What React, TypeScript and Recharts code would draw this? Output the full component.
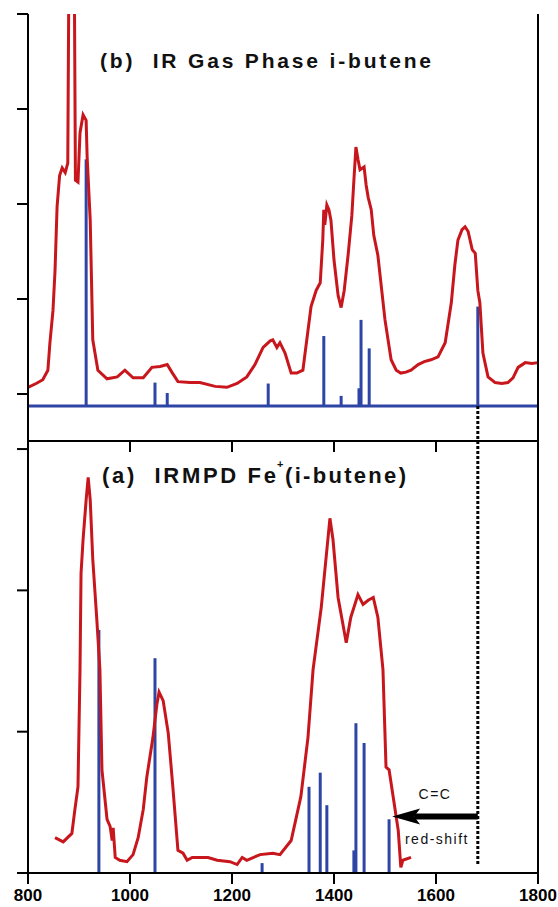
import React from 'react';
import { ComposedChart, Line, XAxis, YAxis, ReferenceLine } from 'recharts';

const RED = '#c8161d';
const BLUE = '#2e45a5';
const FONT = '"Liberation Sans", Arial, Helvetica, sans-serif';

const X_TICKS = [800, 1000, 1200, 1400, 1600, 1800];

// (b) gas phase spectrum
const TOP_WAVE = [800, 816, 829, 839, 843, 849, 853, 857, 862, 867, 873, 878, 881, 890, 893, 898, 902, 908, 914, 916, 922, 927, 937, 955, 975, 990, 1006, 1026, 1043, 1059, 1073, 1082, 1094, 1118, 1137, 1167, 1190, 1210, 1229, 1245, 1261, 1275, 1280, 1288, 1294, 1304, 1316, 1327, 1339, 1355, 1365, 1373, 1378, 1380, 1382, 1386, 1390, 1394, 1400, 1408, 1414, 1420, 1428, 1435, 1439, 1443, 1447, 1451, 1459, 1463, 1467, 1473, 1478, 1486, 1500, 1512, 1522, 1531, 1541, 1551, 1565, 1577, 1590, 1604, 1618, 1630, 1637, 1643, 1651, 1657, 1663, 1671, 1677, 1682, 1686, 1692, 1702, 1716, 1729, 1741, 1751, 1761, 1775, 1788, 1800];
const TOP_ABS = [0.07, 0.11, 0.15, 0.25, 0.54, 0.88, 1.3, 1.97, 2.3, 2.38, 2.33, 2.43, 5.2, 5.2, 2.25, 2.23, 2.75, 2.94, 2.88, 2.49, 1.83, 0.57, 0.25, 0.16, 0.18, 0.25, 0.17, 0.17, 0.28, 0.29, 0.31, 0.23, 0.13, 0.12, 0.12, 0.08, 0.07, 0.11, 0.18, 0.31, 0.49, 0.56, 0.57, 0.49, 0.54, 0.43, 0.22, 0.22, 0.25, 0.92, 1.09, 1.17, 1.62, 1.94, 1.78, 1.99, 1.94, 1.83, 1.41, 1.04, 0.91, 1.09, 1.48, 1.88, 2.25, 2.6, 2.47, 2.36, 2.39, 2.2, 2.07, 1.94, 1.67, 1.46, 0.78, 0.36, 0.25, 0.22, 0.23, 0.25, 0.31, 0.34, 0.36, 0.39, 0.54, 0.96, 1.36, 1.62, 1.73, 1.76, 1.71, 1.52, 1.48, 1.09, 0.96, 0.43, 0.18, 0.12, 0.11, 0.12, 0.17, 0.28, 0.33, 0.32, 0.33];
const TOP_STICK_WAVE = [914, 1049, 1073, 1271, 1380, 1414, 1449, 1453, 1469, 1682];
const TOP_STICK_HEIGHT = [2.47, 0.12, 0.01, 0.11, 0.61, -0.02, 0.06, 0.78, 0.48, 0.92];
const TOP_BASE = -0.126;
const TOP_MIN = -0.495;
const TOP_MAX = 4.0;

// (a) IRMPD spectrum
const BOT_WAVE = [853, 869, 886, 892, 898, 902, 904, 908, 914, 918, 922, 927, 935, 941, 945, 955, 961, 965, 967, 971, 980, 994, 1006, 1016, 1026, 1033, 1045, 1053, 1057, 1065, 1075, 1084, 1094, 1104, 1112, 1122, 1137, 1153, 1171, 1196, 1210, 1220, 1229, 1255, 1280, 1294, 1316, 1335, 1349, 1359, 1375, 1392, 1398, 1408, 1424, 1433, 1447, 1457, 1467, 1477, 1486, 1496, 1502, 1508, 1516, 1526, 1531, 1535, 1551];
const BOT_ABS = [0.25, 0.22, 0.28, 0.45, 0.61, 1.44, 2.12, 2.36, 2.64, 2.8, 2.64, 2.22, 1.79, 1.44, 0.73, 0.38, 0.33, 0.23, 0.32, 0.11, 0.09, 0.08, 0.13, 0.25, 0.45, 0.68, 0.96, 1.2, 1.28, 1.22, 0.99, 0.61, 0.16, 0.14, 0.09, 0.11, 0.11, 0.11, 0.09, 0.08, 0.06, 0.11, 0.09, 0.13, 0.14, 0.13, 0.23, 0.54, 0.96, 1.44, 1.88, 2.51, 2.36, 1.95, 1.63, 1.81, 1.97, 1.9, 1.93, 1.95, 1.81, 1.44, 0.75, 0.73, 0.54, 0.3, 0.04, 0.09, 0.11];
const BOT_STICK_WAVE = [939, 1049, 1259, 1351, 1373, 1386, 1439, 1443, 1459, 1508];
const BOT_STICK_HEIGHT = [1.72, 1.52, 0.07, 0.61, 0.71, 0.48, 0.16, 1.06, 0.92, 0.38];
const BOT_MAX = 3.057;

const CC_WAVE = 1682;
const SHIFT_TIP = 1514;
const ARROW_LEVEL = 0.4;

const topRows = TOP_WAVE.map((w, i) => ({ w, v: TOP_ABS[i] }));
const botRows = BOT_WAVE.map((w, i) => ({ w, v: BOT_ABS[i] }));

const blank = () => <g />;
const axisLine = { stroke: '#000', strokeWidth: 2 };
const tickLine = { stroke: '#000', strokeWidth: 2 };

const Arrow = (p: any) => {
  const { x1, x2, y1 } = p;
  const tip = Math.min(x1, x2);
  const tail = Math.max(x1, x2);
  const mid = (tip + tail) / 2;
  const txt = { fontFamily: FONT, fontSize: 14, fill: '#111', letterSpacing: 1.5 };
  return (
    <g>
      <line x1={tail} y1={y1} x2={tip + 22} y2={y1} stroke="#000" strokeWidth={6} />
      <polygon points={`${tip},${y1} ${tip + 28},${y1 - 8} ${tip + 22},${y1} ${tip + 28},${y1 + 8}`} fill="#000" />
      <text x={mid} y={y1 - 17} textAnchor="middle" {...txt}>C=C</text>
      <text x={mid + 2} y={y1 + 28} textAnchor="middle" {...txt}>red-shift</text>
    </g>
  );
};

export default function App() {
  const titleStyle = { fontFamily: FONT, fontWeight: 'bold' as const, fill: '#111', whiteSpace: 'pre' as const };
  return (
    <div style={{ position: 'absolute', left: 0, top: 0, width: 558, height: 907, background: '#fff' }}>
      <div style={{ position: 'absolute', left: 0, top: 0 }}>
        <ComposedChart width={558} height={460} data={topRows} margin={{ top: 14, right: 0, bottom: 0, left: 0 }}>
          <XAxis dataKey="w" type="number" domain={[800, 1800]} ticks={X_TICKS} tick={blank} tickSize={11} height={19} axisLine={axisLine} tickLine={tickLine} />
          <YAxis yAxisId="left" type="number" domain={[TOP_MIN, TOP_MAX]} ticks={[0, 1, 2, 3, 4]} allowDataOverflow tick={blank} tickSize={11} width={28} axisLine={axisLine} tickLine={tickLine} />
          <YAxis yAxisId="right" orientation="right" type="number" domain={[0, 6]} ticks={[0, 1, 2, 3, 4, 5, 6]} tick={blank} tickSize={10} width={20} axisLine={axisLine} tickLine={tickLine} />
          <ReferenceLine yAxisId="left" y={TOP_BASE} stroke={BLUE} strokeWidth={3} />
          {TOP_STICK_WAVE.map((w, i) => (
            <ReferenceLine key={'ts' + i} yAxisId="left" segment={[{ x: w, y: TOP_BASE }, { x: w, y: TOP_STICK_HEIGHT[i] }]} stroke={BLUE} strokeWidth={3} ifOverflow="visible" />
          ))}
          <ReferenceLine yAxisId="left" segment={[{ x: CC_WAVE, y: TOP_BASE }, { x: CC_WAVE, y: TOP_MIN }]} stroke="#000" strokeWidth={3} strokeDasharray="3 2" ifOverflow="visible" />
          <Line yAxisId="left" dataKey="v" type="linear" stroke={RED} strokeWidth={3} dot={false} isAnimationActive={false} />
        </ComposedChart>
      </div>
      <div style={{ position: 'absolute', left: 0, top: 441 }}>
        <ComposedChart width={558} height={466} data={botRows} margin={{ top: 0, right: 0, bottom: 0, left: 0 }}>
          <XAxis dataKey="w" type="number" domain={[800, 1800]} ticks={X_TICKS} interval={0} tickSize={11} tickMargin={5} height={34} axisLine={axisLine} tickLine={tickLine} tick={{ fontSize: 17, fontWeight: 'bold', fill: '#000', fontFamily: FONT }} />
          <YAxis yAxisId="left" type="number" domain={[0, BOT_MAX]} ticks={[0, 1, 2, 3]} tick={blank} tickSize={11} width={28} axisLine={axisLine} tickLine={tickLine} />
          <YAxis yAxisId="right" orientation="right" type="number" domain={[0, 5.08]} ticks={[0, 1, 2, 3, 4, 5]} tick={blank} tickSize={10} width={20} axisLine={axisLine} tickLine={tickLine} />
          {BOT_STICK_WAVE.map((w, i) => (
            <ReferenceLine key={'bs' + i} yAxisId="left" segment={[{ x: w, y: 0 }, { x: w, y: BOT_STICK_HEIGHT[i] }]} stroke={BLUE} strokeWidth={3} ifOverflow="visible" />
          ))}
          <ReferenceLine yAxisId="left" segment={[{ x: CC_WAVE, y: BOT_MAX }, { x: CC_WAVE, y: 0.05 }]} stroke="#000" strokeWidth={3} strokeDasharray="3 2" ifOverflow="visible" />
          <Line yAxisId="left" dataKey="v" type="linear" stroke={RED} strokeWidth={3} dot={false} isAnimationActive={false} />
          <ReferenceLine yAxisId="left" segment={[{ x: CC_WAVE, y: ARROW_LEVEL }, { x: SHIFT_TIP, y: ARROW_LEVEL }]} shape={Arrow} ifOverflow="visible" />
        </ComposedChart>
      </div>
      <svg width={558} height={907} style={{ position: 'absolute', left: 0, top: 0, pointerEvents: 'none' }}>
        <text x={100} y={68} fontSize={21} textLength={331} lengthAdjust="spacing" style={titleStyle}>(b)  IR Gas Phase i-butene</text>
        <text x={102} y={483} fontSize={22} textLength={174} lengthAdjust="spacing" style={titleStyle}>(a)  IRMPD Fe</text>
        <text x={277} y={468} fontSize={11} style={titleStyle}>+</text>
        <text x={285} y={483} fontSize={22} textLength={121} lengthAdjust="spacing" style={titleStyle}>(i-butene)</text>
      </svg>
    </div>
  );
}
